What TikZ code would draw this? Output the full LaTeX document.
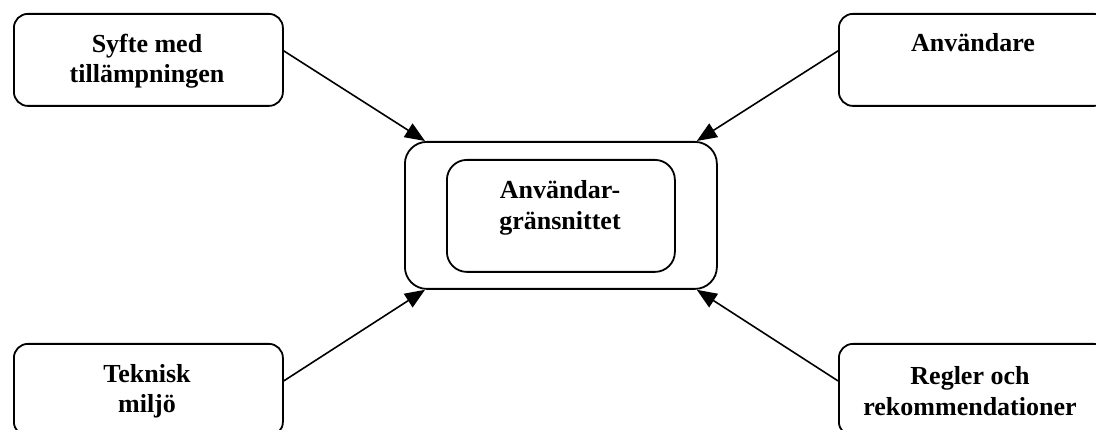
\documentclass[tikz,border=0pt]{standalone}
\usepackage{fontspec}
\setmainfont{Liberation Serif}
\usetikzlibrary{arrows.meta}
\begin{document}
\begin{tikzpicture}[x=1pt,y=-1pt,
  box/.style={draw,line width=1.8pt,rounded corners=14pt,inner sep=0pt,anchor=north west,minimum width=269pt,minimum height=92pt},
  label/.style={font=\fontsize{26}{30.5}\selectfont\bfseries,align=center,inner sep=0pt},
  arr/.style={line width=1.6pt,-{Triangle[length=20pt,width=16pt]}}]
\useasboundingbox (0,0) rectangle (1096,430);
\clip (0,0) rectangle (1096,430);
\node[box] (tl) at (13,13) {};
\node[box] (tr) at (838,13) {};
\node[box] (bl) at (13,343) {};
\node[box] (br) at (838,343) {};
\node[box,minimum width=312pt,minimum height=147pt,rounded corners=22pt] (outer) at (404,141) {};
\node[box,minimum width=228pt,minimum height=112pt,rounded corners=20pt] (inner) at (446,159) {};
\node[label] (tltext) at (147,61) {Syfte med\\tillämpningen};
\node[label,anchor=base] (trtext) at (973,52) {Användare};
\node[label] (intext) at (560,208) {Användar-\\gränsnittet};
\node[label] (bltext) at (147,391) {Teknisk\\miljö};
\node[label] (brtext) at (970,391) {Regler och\\rekommendationer};
\draw[arr] ([yshift=9pt]tl.east) -- ([xshift=21pt]outer.north west);
\draw[arr] ([yshift=9pt]tr.west) -- ([xshift=-21pt]outer.north east);
\draw[arr] ([yshift=9pt]bl.east) -- ([xshift=21pt]outer.south west);
\draw[arr] ([yshift=9pt]br.west) -- ([xshift=-21pt]outer.south east);
\end{tikzpicture}
\end{document}
